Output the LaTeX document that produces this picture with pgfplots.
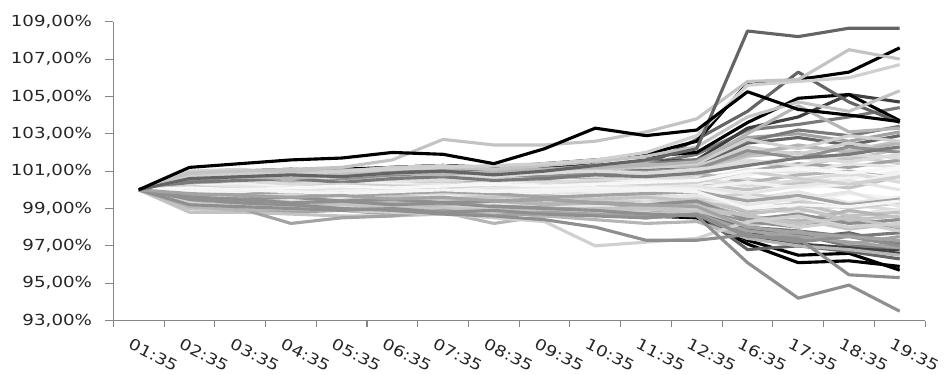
\documentclass[border=0pt]{standalone}
\usepackage{fontspec}
\setmainfont{DejaVu Sans}[FakeStretch=1.2]
\usepackage{pgfplots}
\pgfplotsset{compat=1.18}
\definecolor{g0}{HTML}{000000}
\definecolor{g1}{HTML}{404040}
\definecolor{g2}{HTML}{646464}
\definecolor{g3}{HTML}{7a7a7a}
\definecolor{g4}{HTML}{8f8f8f}
\definecolor{g5}{HTML}{a3a3a3}
\definecolor{g6}{HTML}{b5b5b5}
\definecolor{g7}{HTML}{c3c3c3}
\definecolor{g8}{HTML}{d0d0d0}
\definecolor{g9}{HTML}{dcdcdc}
\definecolor{g10}{HTML}{e6e6e6}
\definecolor{g11}{HTML}{f2f2f2}
\definecolor{axisgray}{HTML}{868686}
\newcommand{\ser}[2]{\addplot[color=#1] table[header=false, x expr=\coordindex, y index=0, row sep=\\]{#2};}
\begin{document}
\begin{tikzpicture}
\begin{axis}[
  scale only axis, width=389.7pt, height=143.5pt,
  xmin=-0.5, xmax=15.5, ymin=93, ymax=109,
  axis lines=left,
  axis line style={draw=axisgray, line width=0.5pt, -},
  tick style={draw=axisgray, line width=0.5pt},
  tick align=outside,
  xtick={0,...,15},
  xticklabels={01:35,02:35,03:35,04:35,05:35,06:35,07:35,08:35,09:35,10:35,11:35,12:35,16:35,17:35,18:35,19:35},
  major x tick style={draw=none},
  minor xtick={-0.5,0.5,...,15.5},
  minor tick length=3pt,
  ytick={93,95,...,109},
  major tick length=4pt,
  /pgf/number format/assume math mode=true,
  yticklabel={\pgfmathprintnumber[fixed,fixed zerofill,precision=2,use comma]{\tick}\%},
  tick label style={font=\fontsize{7.3}{9}\selectfont, text=black!85},
  yticklabel style={anchor=east, inner sep=0pt, xshift=-6pt},
  xticklabel style={xshift=-3pt, yshift=-4pt, rotate=-27, anchor=north west, inner sep=0pt},
  every axis plot/.append style={line width=1.5pt, line join=round},
]
\coordinate (bl) at (rel axis cs:0,0);
\coordinate (tr) at (rel axis cs:1,1);
% darker series drawn first (under the bulk in the early part)
\ser{g0}{100\\99.3\\99.2\\99.0\\99.1\\98.9\\99.0\\98.8\\98.9\\98.7\\98.6\\98.5\\97.1\\96.1\\96.2\\95.9\\}
\ser{g0}{100\\99.5\\99.4\\99.3\\99.2\\99.1\\99.2\\99.0\\98.9\\98.8\\98.9\\98.6\\97.3\\96.5\\96.6\\95.7\\}
\ser{g2}{100\\99.6\\99.4\\99.5\\99.3\\99.2\\99.4\\99.1\\99.0\\98.9\\98.7\\98.8\\96.8\\97.0\\96.7\\96.3\\}
\ser{g1}{100\\99.4\\99.3\\99.2\\99.3\\99.1\\99.0\\99.1\\98.9\\98.8\\98.6\\98.7\\97.8\\97.1\\96.9\\96.8\\}
\ser{g3}{100\\99.7\\99.6\\99.5\\99.6\\99.4\\99.3\\99.4\\99.2\\99.1\\99.0\\98.9\\97.9\\97.6\\97.0\\96.9\\}
\ser{g3}{100\\100.5\\100.6\\100.7\\100.6\\100.8\\100.9\\101.0\\100.9\\101.1\\101.4\\101.9\\103.2\\103.5\\103.9\\104.4\\}
\ser{g1}{100\\100.7\\100.8\\100.9\\101.0\\100.9\\101.1\\101.0\\101.2\\101.3\\101.5\\101.6\\103.3\\103.9\\105.1\\104.7\\}
\ser{g0}{100\\100.9\\101.0\\101.1\\101.0\\101.2\\101.3\\101.2\\101.4\\101.6\\101.8\\102.0\\103.6\\104.9\\105.1\\103.7\\}
\ser{g2}{100\\100.5\\100.6\\100.4\\100.6\\100.7\\100.8\\100.9\\100.7\\101.0\\101.3\\102.7\\104.2\\106.3\\104.7\\103.6\\}
\ser{g0}{100\\100.8\\100.9\\101.0\\101.1\\101.2\\101.3\\101.1\\101.2\\101.5\\101.9\\102.6\\105.7\\105.9\\106.3\\107.6\\}
\ser{g1}{100\\99.4\\99.3\\99.1\\99.2\\99.0\\99.1\\98.9\\99.0\\98.8\\98.7\\98.6\\97.6\\97.0\\96.9\\96.6\\}
\ser{g2}{100\\100.7\\100.9\\101.0\\100.8\\101.0\\100.9\\101.1\\101.0\\101.2\\101.1\\101.3\\102.5\\102.8\\102.4\\102.9\\}
\ser{g2}{100\\99.4\\99.2\\99.3\\99.1\\99.0\\99.2\\99.1\\99.0\\98.9\\98.8\\98.9\\97.9\\97.4\\97.7\\97.1\\}
% bulk
\ser{g7}{100\\100.6\\100.7\\100.8\\100.7\\100.9\\101.0\\100.8\\100.9\\101.1\\101.2\\101.3\\102.0\\102.3\\102.1\\102.6\\}
\ser{g8}{100\\100.3\\100.4\\100.2\\100.3\\100.5\\100.4\\100.3\\100.6\\100.7\\100.6\\100.8\\101.5\\101.2\\101.8\\101.4\\}
\ser{g6}{100\\99.6\\99.5\\99.4\\99.5\\99.3\\99.5\\99.4\\99.3\\99.2\\99.0\\99.2\\98.5\\98.2\\98.6\\98.0\\}
\ser{g9}{100\\100.1\\100.0\\100.2\\100.1\\100.0\\100.1\\100.2\\100.0\\100.1\\100.2\\100.1\\100.6\\100.3\\100.8\\100.5\\}
\ser{g5}{100\\100.8\\100.9\\100.7\\100.9\\101.1\\101.2\\100.9\\101.0\\101.3\\101.5\\101.4\\102.8\\103.0\\102.6\\103.1\\}
\ser{g10}{100\\99.8\\99.9\\99.7\\99.8\\99.9\\99.8\\100.0\\99.9\\99.8\\99.9\\99.8\\99.5\\99.9\\99.3\\99.6\\}
\ser{g4}{100\\99.2\\99.1\\99.0\\98.9\\99.1\\98.9\\98.8\\98.9\\98.7\\98.6\\98.8\\97.6\\97.3\\97.6\\97.2\\}
\ser{g7}{100\\100.4\\100.6\\100.5\\100.7\\100.6\\100.8\\100.7\\100.9\\101.0\\100.8\\101.0\\101.8\\102.0\\101.6\\102.2\\}
\ser{g11}{100\\100.0\\100.1\\100.0\\100.2\\100.1\\100.0\\100.1\\100.3\\100.2\\100.1\\100.2\\100.9\\100.7\\100.6\\101.0\\}
\ser{g6}{100\\99.4\\99.3\\99.5\\99.2\\99.4\\99.6\\99.3\\99.2\\99.4\\99.3\\99.5\\98.8\\99.1\\98.7\\98.9\\}
\ser{g8}{100\\100.9\\100.8\\101.0\\100.9\\101.0\\101.2\\101.1\\100.9\\101.2\\101.3\\101.2\\102.3\\101.9\\102.5\\102.1\\}
\ser{g3}{100\\99.5\\99.4\\99.2\\99.3\\99.2\\99.0\\99.1\\99.0\\98.9\\98.8\\98.9\\98.0\\97.8\\97.5\\97.7\\}
\ser{g9}{100\\99.7\\99.6\\99.8\\99.7\\99.6\\99.8\\99.7\\99.5\\99.6\\99.7\\99.6\\99.0\\98.8\\99.2\\98.9\\}
\ser{g5}{100\\100.2\\100.3\\100.4\\100.3\\100.5\\100.6\\100.4\\100.5\\100.3\\100.4\\100.6\\101.0\\101.4\\101.2\\101.6\\}
\ser{g10}{100\\100.5\\100.4\\100.6\\100.5\\100.4\\100.6\\100.5\\100.4\\100.5\\100.6\\100.5\\101.1\\100.9\\101.4\\101.2\\}
\ser{g7}{100\\99.1\\99.0\\98.9\\99.0\\98.8\\98.9\\99.0\\98.8\\98.9\\98.7\\98.9\\98.1\\98.4\\97.9\\98.2\\}
\ser{g11}{100\\99.9\\99.8\\99.9\\100.0\\99.8\\99.9\\99.8\\99.9\\100.0\\99.9\\100.0\\99.7\\99.4\\99.8\\99.5\\}
\ser{g6}{100\\100.3\\100.2\\100.4\\100.6\\100.7\\100.5\\100.7\\100.8\\100.6\\100.8\\100.9\\100.4\\100.8\\101.0\\100.6\\}
\ser{g4}{100\\99.3\\99.4\\99.2\\99.4\\99.5\\99.3\\99.2\\99.1\\99.0\\99.2\\99.1\\98.3\\98.0\\98.4\\97.9\\}
\ser{g8}{100\\99.5\\99.6\\99.5\\99.4\\99.6\\99.5\\99.7\\99.6\\99.5\\99.4\\99.5\\99.8\\99.4\\99.0\\99.3\\}
\ser{g9}{100\\100.6\\100.5\\100.7\\100.8\\100.6\\100.7\\100.9\\100.8\\100.7\\100.9\\101.0\\101.6\\101.3\\101.9\\101.7\\}
\ser{g3}{100\\100.9\\101.0\\100.9\\101.1\\101.0\\101.2\\101.0\\101.1\\101.3\\101.4\\101.6\\102.6\\103.2\\102.9\\103.4\\}
\ser{g10}{100\\99.3\\99.2\\99.3\\99.1\\99.2\\99.1\\99.3\\99.2\\99.1\\99.3\\99.2\\99.6\\99.0\\98.7\\98.9\\}
\ser{g5}{100\\99.0\\98.9\\98.8\\98.9\\98.7\\98.9\\98.8\\98.6\\98.7\\98.5\\98.7\\97.4\\97.8\\97.1\\97.5\\}
\ser{g7}{100\\100.1\\100.3\\100.1\\100.0\\100.2\\100.3\\100.2\\100.1\\100.3\\100.4\\100.3\\100.0\\100.4\\100.1\\100.7\\}
\ser{g11}{100\\100.2\\100.3\\100.2\\100.4\\100.3\\100.2\\100.4\\100.3\\100.4\\100.5\\100.3\\100.8\\101.2\\100.9\\100.6\\}
\ser{g6}{100\\100.9\\101.0\\101.1\\101.0\\101.2\\101.1\\101.3\\101.1\\101.2\\101.4\\101.2\\101.9\\102.4\\102.0\\102.5\\}
\ser{g8}{100\\99.0\\98.9\\99.1\\99.0\\98.9\\99.1\\99.0\\98.9\\98.8\\98.9\\99.0\\98.5\\98.0\\98.3\\97.8\\}
\ser{g9}{100\\100.4\\100.5\\100.3\\100.4\\100.6\\100.5\\100.6\\100.4\\100.5\\100.7\\100.6\\100.2\\100.5\\100.9\\100.4\\}
\ser{g4}{100\\100.5\\100.7\\100.8\\100.6\\100.8\\101.0\\100.8\\100.7\\100.9\\101.0\\101.1\\102.1\\101.7\\102.3\\102.0\\}
\ser{g10}{100\\99.6\\99.7\\99.5\\99.6\\99.7\\99.6\\99.5\\99.7\\99.6\\99.5\\99.7\\99.2\\99.5\\99.9\\99.1\\}
\ser{g7}{100\\99.8\\99.7\\99.6\\99.8\\99.7\\99.5\\99.6\\99.7\\99.5\\99.6\\99.4\\98.9\\99.3\\98.6\\98.8\\}
\ser{g8}{100\\101.0\\101.1\\100.9\\101.0\\101.2\\101.3\\101.1\\101.0\\101.3\\101.2\\101.4\\102.7\\102.2\\102.9\\102.6\\}
\ser{g5}{100\\99.7\\99.8\\99.9\\99.7\\99.8\\99.9\\99.8\\99.6\\99.7\\99.8\\99.9\\99.4\\99.7\\99.2\\99.5\\}
\ser{g11}{100\\100.0\\99.9\\100.1\\100.0\\99.9\\100.1\\100.0\\100.1\\99.9\\100.0\\100.1\\100.4\\100.1\\100.3\\100.9\\}
\ser{g6}{100\\99.2\\99.3\\99.1\\99.3\\99.1\\99.2\\99.4\\99.2\\99.3\\99.1\\99.3\\98.6\\98.3\\98.9\\98.5\\}
\ser{g9}{100\\100.7\\100.8\\100.6\\100.7\\100.9\\100.8\\100.7\\100.9\\101.0\\100.9\\101.1\\101.4\\101.7\\101.5\\101.9\\}
\ser{g3}{100\\100.4\\100.5\\100.6\\100.4\\100.6\\100.7\\100.5\\100.6\\100.8\\100.7\\100.9\\101.3\\101.7\\101.9\\102.3\\}
\ser{g10}{100\\100.1\\100.2\\100.0\\100.1\\100.2\\100.3\\100.1\\100.2\\100.1\\100.3\\100.2\\99.8\\100.2\\100.5\\100.0\\}
\ser{g4}{100\\99.6\\99.5\\99.6\\99.4\\99.5\\99.3\\99.4\\99.5\\99.3\\99.2\\99.4\\98.4\\98.7\\98.2\\98.4\\}
\ser{g8}{100\\100.2\\100.0\\100.1\\100.3\\100.2\\100.1\\100.3\\100.2\\100.4\\100.3\\100.4\\101.0\\100.6\\100.3\\100.7\\}
\ser{g7}{100\\99.0\\99.1\\99.0\\99.2\\99.1\\99.0\\98.9\\99.0\\98.9\\99.0\\98.8\\98.7\\99.0\\98.4\\98.6\\}
\ser{white!97!black}{100\\100.1\\100.0\\100.1\\100.2\\100.1\\100.2\\100.3\\100.2\\100.3\\100.4\\100.5\\101.0\\101.1\\100.9\\101.2\\}
\ser{white!96!black}{100\\99.9\\100.0\\99.9\\99.8\\99.9\\100.0\\99.9\\100.0\\100.1\\100.0\\99.9\\99.0\\99.2\\99.1\\99.4\\}
% lower edge
\ser{g7}{100\\98.8\\98.8\\98.7\\98.6\\98.6\\98.7\\98.8\\98.9\\99.0\\99.0\\99.1\\98.6\\98.2\\98.5\\98.0\\}
\ser{g5}{100\\99.4\\99.0\\98.2\\98.5\\98.6\\98.9\\98.6\\98.8\\98.7\\98.5\\98.7\\97.8\\97.5\\97.2\\96.9\\}
\ser{g6}{100\\99.1\\98.9\\99.0\\98.9\\98.9\\98.8\\98.2\\98.6\\98.4\\98.2\\98.3\\97.4\\97.0\\96.8\\96.5\\}
\ser{g8}{100\\99.3\\99.1\\99.0\\98.9\\98.8\\98.7\\98.5\\98.3\\97.0\\97.2\\97.4\\98.3\\98.6\\98.0\\98.2\\}
\ser{g4}{100\\99.5\\99.3\\99.2\\99.0\\98.9\\98.7\\98.6\\98.4\\98.0\\97.3\\97.3\\97.6\\97.2\\97.5\\97.0\\}
\ser{g4}{100\\99.6\\99.5\\99.3\\99.4\\99.2\\99.3\\99.1\\99.0\\98.9\\98.7\\98.6\\96.1\\94.2\\94.9\\93.5\\}
\ser{g4}{100\\99.2\\99.1\\99.0\\98.9\\99.0\\98.8\\98.9\\98.7\\98.6\\98.5\\98.7\\97.5\\97.4\\95.45\\95.3\\}
\ser{g5}{100\\99.8\\99.7\\99.6\\99.7\\99.5\\99.6\\99.4\\99.5\\99.3\\99.2\\99.1\\98.0\\97.7\\97.5\\97.3\\}
% upper edge
\ser{g6}{100\\100.6\\100.7\\100.6\\100.8\\100.9\\100.8\\101.0\\101.1\\101.2\\101.3\\101.5\\103.0\\104.5\\103.1\\103.3\\}
\ser{g7}{100\\100.8\\100.9\\101.0\\100.9\\101.1\\101.2\\101.1\\101.3\\101.5\\101.8\\102.3\\103.9\\104.7\\104.2\\105.3\\}
\ser{g8}{100\\100.7\\100.9\\100.8\\101.0\\101.1\\101.2\\101.3\\101.4\\101.6\\102.0\\102.9\\105.6\\105.8\\106.0\\106.7\\}
\ser{g7}{100\\100.9\\101.0\\101.1\\101.2\\101.6\\102.7\\102.4\\102.4\\102.6\\103.1\\103.8\\105.8\\105.9\\107.5\\107.0\\}
\ser{g2}{100\\100.6\\100.7\\100.8\\100.7\\100.9\\101.0\\100.8\\101.0\\101.3\\101.6\\102.2\\108.5\\108.2\\108.65\\108.65\\}
\ser{g0}{100\\101.2\\101.4\\101.6\\101.7\\102.0\\101.9\\101.4\\102.2\\103.3\\102.9\\103.2\\105.25\\104.3\\104.0\\103.65\\}
\end{axis}
\pgfresetboundingbox
\path ([shift={(-54.4pt,-26.1pt)}]bl) rectangle ([shift={(11pt,10.4pt)}]tr);
\end{tikzpicture}
\end{document}
